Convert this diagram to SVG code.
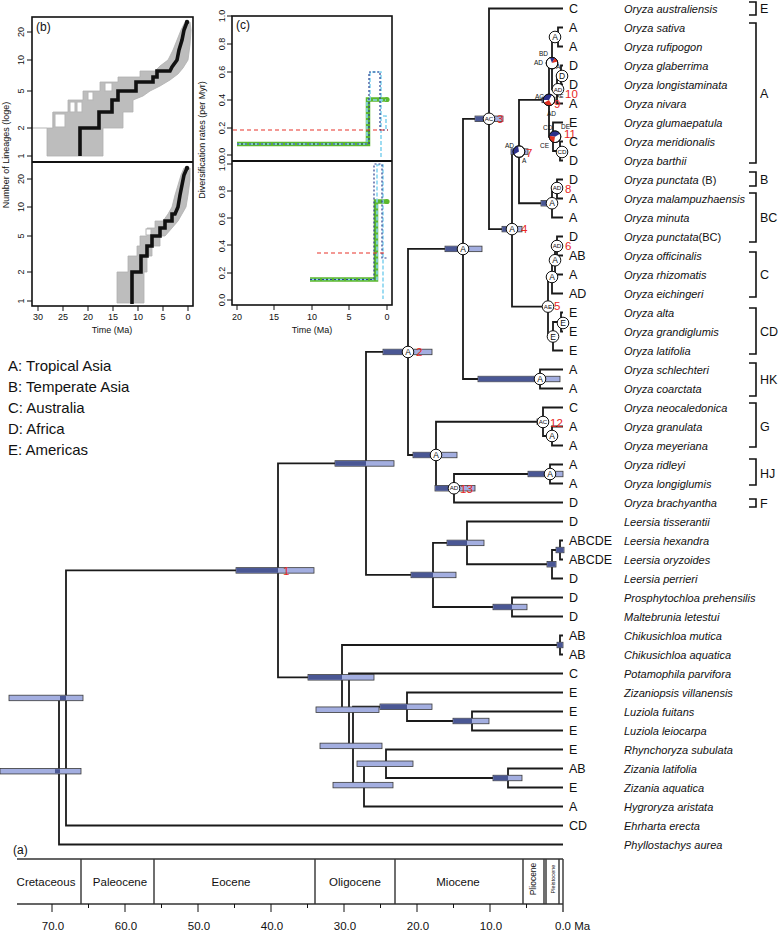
<svg xmlns="http://www.w3.org/2000/svg" width="778" height="931" viewBox="0 0 778 931">
<style>
text{font-family:"Liberation Sans",Arial,sans-serif;fill:#111}
.br{fill:none;stroke:#1a1a1a;stroke-width:1.8}
.bar{fill:#a3aee0;stroke:#3a3a3a;stroke-width:0.8}
.bd{fill:#4a5794}
.nc{fill:#fff;stroke:#111;stroke-width:1}
.n1{font-size:8.5px;text-anchor:middle}
.n2{font-size:6.2px;text-anchor:middle}
.pl{font-size:6.5px}
.red{font-size:11.5px;fill:#e8271e}
.rg{font-size:12.5px}
.sp{font-size:11px;font-style:italic}
.up{font-style:normal}
.bk{fill:none;stroke:#111;stroke-width:1.6}
.lg{font-size:15px}
.axm{font-size:9px;text-anchor:middle}
.frame{fill:none;stroke:#111;stroke-width:1.6}
.tk{stroke:#111;stroke-width:1}
.per{font-size:11.5px;text-anchor:middle}
.sc{fill:none;stroke:#333;stroke-width:1.4}
.band{fill:#bdbdbd;stroke:#b0b0b0;stroke-width:0.8}
.box{fill:#fff;stroke:#b5b5b5;stroke-width:1}
.ltt{fill:none;stroke:#111;stroke-width:3.6;stroke-linejoin:miter}
.grn{fill:none;stroke:#5cb82e;stroke-width:4.5}
.cy{fill:none;stroke:#86d4ef;stroke-width:1.6;stroke-dasharray:4 2}
.db{fill:none;stroke:#2b3f8f;stroke-width:1.2;stroke-dasharray:2 2}
.rd{fill:none;stroke:#e8332a;stroke-width:1.2;stroke-dasharray:4 3}
</style>

<!-- Plot (b) -->
<g id="plot-b">
<polygon class="band" points="47,156 47,128 53,128 53,112 68,112 68,100 83,100 83,91 100,91 100,82 118,82 118,77 140,77 140,71 155,71 160,66 168,60 173,50 177,40 181,30 185,22 190,22 191,30 190,45 188,60 183,68 178,74 170,80 160,86 150,91 143,96 133,100 133,112 123,112 123,128 103,128 103,156"/>
<rect class="box" x="55" y="114" width="10" height="13"/>
<rect class="box" x="70" y="102" width="5" height="10"/>
<rect class="box" x="77" y="102" width="5" height="10"/>
<rect class="box" x="88" y="92" width="5" height="8"/>
<rect class="box" x="105" y="83" width="7" height="8"/>
<polyline fill="none" stroke="#b5b5b5" stroke-width="1" points="32,128 47,128"/>
<polyline fill="none" stroke="#b5b5b5" stroke-width="1" points="53,112 53,128"/>
<polygon class="band" points="117,303 117,272 128,272 128,256 137,256 137,246 140,246 140,236 147,236 147,228 155,228 155,221 163,221 168,214 172,207 175,195 178,185 181,175 184,168 190,168 190,180 188,195 186,207 182,214 178,221 172,228 165,236 160,236 160,246 152,246 152,256 147,256 147,272 144,272 144,303"/>
<rect class="box" x="146" y="229" width="5" height="6"/>
<polyline class="ltt" points="80,156 80,128 99,128 99,112 112,112 112,100 118,100 118,91 136,91 136,82 153,82 153,77 157,77 157,71 170,71 172,67 177,60 179,50 182,40 184,30 187,22"/>
<circle cx="187" cy="22" r="2.2" fill="#111"/>
<polyline class="ltt" points="132,304 132,272 141,272 141,256 147,256 147,246 152,246 152,236 160,236 160,228 165,228 165,221 172,221 172,214 175,214 178,207 180,195 182,185 184,175 187,168"/>
<circle cx="187" cy="168" r="2.2" fill="#111"/>
<rect class="frame" x="32" y="17" width="161" height="289"/>
<line x1="32" y1="162" x2="193" y2="162" stroke="#111" stroke-width="2"/>
<text x="36" y="31" font-size="12">(b)</text>
<g class="tk">
<line x1="27" y1="32" x2="32" y2="32"/><line x1="27" y1="60" x2="32" y2="60"/><line x1="27" y1="91" x2="32" y2="91"/><line x1="27" y1="128" x2="32" y2="128"/><line x1="27" y1="156" x2="32" y2="156"/>
<line x1="27" y1="179" x2="32" y2="179"/><line x1="27" y1="207" x2="32" y2="207"/><line x1="27" y1="236" x2="32" y2="236"/><line x1="27" y1="272" x2="32" y2="272"/><line x1="27" y1="301" x2="32" y2="301"/>
<line x1="38" y1="306" x2="38" y2="311"/><line x1="63" y1="306" x2="63" y2="311"/><line x1="88" y1="306" x2="88" y2="311"/><line x1="113" y1="306" x2="113" y2="311"/><line x1="138" y1="306" x2="138" y2="311"/><line x1="163" y1="306" x2="163" y2="311"/><line x1="188" y1="306" x2="188" y2="311"/>
</g>
<text class="axm" transform="translate(24,32) rotate(-90)">20</text>
<text class="axm" transform="translate(24,60) rotate(-90)">10</text>
<text class="axm" transform="translate(24,91) rotate(-90)">5</text>
<text class="axm" transform="translate(24,128) rotate(-90)">2</text>
<text class="axm" transform="translate(24,156) rotate(-90)">1</text>
<text class="axm" transform="translate(24,179) rotate(-90)">20</text>
<text class="axm" transform="translate(24,207) rotate(-90)">10</text>
<text class="axm" transform="translate(24,236) rotate(-90)">5</text>
<text class="axm" transform="translate(24,272) rotate(-90)">2</text>
<text class="axm" transform="translate(24,301) rotate(-90)">1</text>
<text class="axm" transform="translate(9,155) rotate(-90)" font-size="8.5">Number of Lineages (loge)</text>
<text class="axm" x="38" y="320">30</text><text class="axm" x="63" y="320">25</text><text class="axm" x="88" y="320">20</text><text class="axm" x="113" y="320">15</text><text class="axm" x="138" y="320">10</text><text class="axm" x="163" y="320">5</text><text class="axm" x="188" y="320">0</text>
<text class="axm" x="112" y="333">Time (Ma)</text>
</g>

<!-- Plot (c) -->
<g id="plot-c">
<path class="grn" d="M237 144 H368 V99.5 H387"/>
<circle cx="387" cy="99.5" r="2.6" fill="#5cb82e"/>
<path class="cy" d="M237 144 H367 V100 H386"/>
<path class="cy" d="M370 100 V72 H381 V157"/>
<path class="cy" d="M383 116 H386 V131"/>
<path class="db" d="M237 144 H369 V72 H380 V130 H388"/>
<path class="rd" d="M233 130 H388"/>
<path class="grn" d="M310 279.5 H376 V201.5 H387"/>
<circle cx="387" cy="201.5" r="2.6" fill="#5cb82e"/>
<path class="cy" d="M310 279.5 H377 V165 H383 V299"/>
<path class="db" d="M310 279.5 H374 V164 H382 V258 H387"/>
<path class="rd" d="M317 253 H387"/>
<rect class="frame" x="232" y="16" width="160" height="289"/>
<line x1="232" y1="161" x2="392" y2="161" stroke="#111" stroke-width="2"/>
<text x="236" y="29" font-size="12">(c)</text>
<g class="tk">
<line x1="227" y1="16" x2="232" y2="16"/><line x1="227" y1="44" x2="232" y2="44"/><line x1="227" y1="72" x2="232" y2="72"/><line x1="227" y1="100" x2="232" y2="100"/><line x1="227" y1="128" x2="232" y2="128"/><line x1="227" y1="155" x2="232" y2="155"/>
<line x1="227" y1="164" x2="232" y2="164"/><line x1="227" y1="191" x2="232" y2="191"/><line x1="227" y1="218" x2="232" y2="218"/><line x1="227" y1="245" x2="232" y2="245"/><line x1="227" y1="273" x2="232" y2="273"/><line x1="227" y1="300" x2="232" y2="300"/>
<line x1="237" y1="305" x2="237" y2="310"/><line x1="274" y1="305" x2="274" y2="310"/><line x1="312" y1="305" x2="312" y2="310"/><line x1="349" y1="305" x2="349" y2="310"/><line x1="387" y1="305" x2="387" y2="310"/>
</g>
<text class="axm" transform="translate(225,16) rotate(-90)">1.0</text>
<text class="axm" transform="translate(225,44) rotate(-90)">0.8</text>
<text class="axm" transform="translate(225,72) rotate(-90)">0.6</text>
<text class="axm" transform="translate(225,100) rotate(-90)">0.4</text>
<text class="axm" transform="translate(225,128) rotate(-90)">0.2</text>
<text class="axm" transform="translate(225,154) rotate(-90)">0.0</text>
<text class="axm" transform="translate(225,165) rotate(-90)">1.0</text>
<text class="axm" transform="translate(225,192) rotate(-90)">0.8</text>
<text class="axm" transform="translate(225,219) rotate(-90)">0.6</text>
<text class="axm" transform="translate(225,246) rotate(-90)">0.4</text>
<text class="axm" transform="translate(225,273) rotate(-90)">0.2</text>
<text class="axm" transform="translate(225,300) rotate(-90)">0.0</text>
<text class="axm" transform="translate(205,140) rotate(-90)" font-size="8.5">Diversification rates (per Myr)</text>
<text class="axm" x="237" y="320">20</text><text class="axm" x="274" y="320">15</text><text class="axm" x="312" y="320">10</text><text class="axm" x="349" y="320">5</text><text class="axm" x="387" y="320">0</text>
<text class="axm" x="312" y="333">Time (Ma)</text>
</g>

<!-- Legend -->
<g id="legend">
<text class="lg" x="8" y="371">A: Tropical Asia</text>
<text class="lg" x="8" y="392">B: Temperate Asia</text>
<text class="lg" x="8" y="413">C: Australia</text>
<text class="lg" x="8" y="434">D: Africa</text>
<text class="lg" x="8" y="455">E: Americas</text>
</g>

<!-- Connectors (tree branches) -->
<g id="connectors" class="br">
<path d="M66 697.95 H59 V844.5 H563"/>
<path d="M278 570.4 H66 V825.5 H563"/>
<path d="M366 463.45 H278 V677.35 H342"/>
<path d="M408 351.95 H366 V574.95 H433"/>
<path d="M463 248.9 H408 V455 H436"/>
<path d="M489 118.8 H463 V379 H540"/>
<path d="M563 8.5 H489 V229.1 H512"/>
<path d="M519 151.6 H512 V306.6 H548"/>
<path d="M549 99.9 H519 V203.25 H552"/>
<path d="M552 63.1 H549 V136.75 H553"/>
<path d="M558 37 H552 V89.25 H557"/>
<path d="M563 27.5 H558 V46.5 H563"/>
<path d="M561 75 H557 V103.5 H563"/>
<path d="M563 65.5 H561 V84.5 H563"/>
<path d="M563 122.5 H553 V151 H560"/>
<path d="M563 141.5 H560 V160.5 H563"/>
<path d="M557 189 H552 V217.5 H563"/>
<path d="M563 179.5 H557 V198.5 H563"/>
<path d="M552 276.9 H548 V336.25 H553"/>
<path d="M555 260.25 H552 V293.5 H563"/>
<path d="M557 246 H555 V274.5 H563"/>
<path d="M563 236.5 H557 V255.5 H563"/>
<path d="M561 322 H553 V350.5 H563"/>
<path d="M563 312.5 H561 V331.5 H563"/>
<path d="M563 369.5 H540 V388.5 H563"/>
<path d="M543 421.75 H436 V488.25 H454"/>
<path d="M563 407.5 H543 V436 H552"/>
<path d="M563 426.5 H552 V445.5 H563"/>
<path d="M550 474 H454 V502.5 H563"/>
<path d="M563 464.5 H550 V483.5 H563"/>
<path d="M467 542.9 H433 V607 H512"/>
<path d="M563 521.5 H467 V564.25 H552"/>
<path d="M560 550 H552 V578.5 H563"/>
<path d="M563 540.5 H560 V559.5 H563"/>
<path d="M563 597.5 H512 V616.5 H563"/>
<path d="M560 645 H342 V709.7 H349"/>
<path d="M563 635.5 H560 V654.5 H563"/>
<path d="M563 673.5 H349 V745.9 H353"/>
<path d="M407 706.75 H353 V785.1 H364"/>
<path d="M563 692.5 H407 V721 H472"/>
<path d="M563 711.5 H472 V730.5 H563"/>
<path d="M386 763.75 H364 V806.5 H563"/>
<path d="M563 749.5 H386 V778 H508"/>
<path d="M563 768.5 H508 V787.5 H563"/>
</g>

<!-- Node age bars -->
<g id="bars">
<rect class="bar" x="0" y="768.45" width="81" height="5.5"/><rect class="bd" x="55" y="769.2" width="5" height="4"/>
<rect class="bar" x="9" y="695.2" width="74" height="5.5"/><rect class="bd" x="60" y="696" width="6" height="4"/>
<rect class="bar" x="236" y="567.65" width="78" height="5.5"/><rect class="bd" x="236.4" y="568.05" width="41.6" height="4.7"/>
<rect class="bar" x="335" y="460.7" width="59" height="5.5"/><rect class="bd" x="335.4" y="461.1" width="30.6" height="4.7"/>
<rect class="bar" x="383" y="349.2" width="49" height="5.5"/><rect class="bd" x="383.4" y="349.6" width="24.6" height="4.7"/>
<rect class="bar" x="445" y="246.15" width="37" height="5.5"/><rect class="bd" x="445.4" y="246.55" width="17.6" height="4.7"/>
<rect class="bar" x="475" y="116.05" width="28" height="5.5"/><rect class="bd" x="475.4" y="116.45" width="13.6" height="4.7"/>
<rect class="bar" x="502" y="226.35" width="20" height="5.5"/><rect class="bd" x="502.4" y="226.75" width="9.6" height="4.7"/>
<rect class="bar" x="511" y="148.85" width="17" height="5.5"/><rect class="bd" x="511.4" y="149.25" width="7.6" height="4.7"/>
<rect class="bar" x="542" y="97.15" width="13" height="5.5"/><rect class="bd" x="542.4" y="97.55" width="7" height="4.7"/>
<rect class="bar" x="541" y="200.5" width="14" height="5.5"/><rect class="bd" x="541.4" y="200.9" width="10.6" height="4.7"/>
<rect class="bar" x="478" y="376.25" width="82" height="5.5"/><rect class="bd" x="478.4" y="376.65" width="61.6" height="4.7"/>
<rect class="bar" x="413" y="452.25" width="44" height="5.5"/><rect class="bd" x="413.4" y="452.65" width="22.6" height="4.7"/>
<rect class="bar" x="435" y="485.5" width="40" height="5.5"/><rect class="bd" x="435.4" y="485.9" width="18.6" height="4.7"/>
<rect class="bar" x="528" y="471.25" width="35" height="5.5"/><rect class="bd" x="528.4" y="471.65" width="21.6" height="4.7"/>
<rect class="bar" x="537" y="419" width="9" height="5.5"/><rect class="bd" x="537.4" y="419.4" width="8.2" height="4.7"/>
<rect class="bar" x="411" y="572.2" width="45" height="5.5"/><rect class="bd" x="411.4" y="572.6" width="21.6" height="4.7"/>
<rect class="bar" x="447" y="540.15" width="37" height="5.5"/><rect class="bd" x="447.4" y="540.55" width="19.6" height="4.7"/>
<rect class="bar" x="547" y="561.5" width="9" height="5.5"/><rect class="bd" x="547.4" y="561.9" width="8.2" height="4.7"/>
<rect class="bar" x="556" y="547.25" width="8" height="5.5"/><rect class="bd" x="556.4" y="547.65" width="7.2" height="4.7"/>
<rect class="bar" x="493" y="604.25" width="34" height="5.5"/><rect class="bd" x="493.4" y="604.65" width="18.6" height="4.7"/>
<rect class="bar" x="308" y="674.6" width="66" height="5.5"/><rect class="bd" x="308.4" y="675" width="33.6" height="4.7"/>
<rect class="bar" x="316" y="706.95" width="63" height="5.5"/>
<rect class="bar" x="320" y="743.15" width="62" height="5.5"/>
<rect class="bar" x="380" y="704" width="52" height="5.5"/><rect class="bd" x="380.4" y="704.4" width="26.6" height="4.7"/>
<rect class="bar" x="453" y="718.25" width="36" height="5.5"/><rect class="bd" x="453.4" y="718.65" width="18.6" height="4.7"/>
<rect class="bar" x="333" y="782.35" width="60" height="5.5"/>
<rect class="bar" x="357" y="761" width="56" height="5.5"/>
<rect class="bar" x="493" y="775.25" width="29" height="5.5"/><rect class="bd" x="493.4" y="775.65" width="14.6" height="4.7"/>
<rect class="bar" x="557" y="642.25" width="6" height="5.5"/><rect class="bd" x="557.4" y="642.65" width="5.2" height="4.7"/>
</g>

<!-- Internal nodes (ancestral range circles) -->
<g id="n-2"><circle class="nc" cx="408" cy="352" r="5.8"/><text class="n1" x="408" y="355">A</text></g>
<g id="n-N3"><circle class="nc" cx="463" cy="249" r="5.8"/><text class="n1" x="463" y="252">A</text></g>
<g id="n-3"><circle class="nc" cx="489" cy="118.8" r="5.8"/><text class="n2" x="489" y="121">AC</text></g>
<g id="n-4"><circle class="nc" cx="512" cy="229.1" r="5.8"/><text class="n1" x="512" y="232.1">A</text></g>
<g id="n-7"><circle class="nc" cx="519" cy="151.6" r="5.8"/><path d="M519 151.6 L513.98 154.5 A5.8 5.8 0 0 1 517.99 145.89 Z" fill="#2b2f8a"/><circle cx="519" cy="151.6" r="5.8" fill="none" stroke="#111" stroke-width="1"/><text class="pl" x="505" y="148">AD</text><text class="pl" x="522" y="163">A</text></g>
<g id="n-sr"><circle class="nc" cx="555" cy="37" r="5.8"/><text class="n1" x="555" y="40">A</text></g>
<g id="n-62"><circle class="nc" cx="552" cy="63.1" r="5.8"/><path d="M552 63.1 L550.02 57.65 A5.8 5.8 0 0 1 554.9 58.08 Z" fill="#2b2f8a"/><path d="M552 63.1 L554.9 58.08 A5.8 5.8 0 0 1 557.6 61.6 Z" fill="#e03020"/><circle cx="552" cy="63.1" r="5.8" fill="none" stroke="#111" stroke-width="1"/><text class="pl" x="539" y="55.5">BD</text><text class="pl" x="534" y="65">AD</text><text class="pl" x="556" y="68.5">A</text></g>
<g id="n-D"><circle class="nc" cx="562" cy="76" r="5.8"/><text class="n1" x="562" y="79">D</text></g>
<g id="n-10"><circle class="nc" cx="558" cy="89.25" r="5.8"/><text class="n2" x="558" y="91.5">AD</text></g>
<g id="n-9"><text x="556" y="98" font-size="5.5">AE</text><circle class="nc" cx="549" cy="99.9" r="5.8"/><path d="M549 99.9 L543.2 99.9 A5.8 5.8 0 0 1 551.9 94.88 Z" fill="#2b2f8a"/><path d="M549 99.9 L551.9 104.92 A5.8 5.8 0 0 1 543.98 102.8 Z" fill="#e03020"/><circle cx="549" cy="99.9" r="5.8" fill="none" stroke="#111" stroke-width="1"/><text class="pl" x="535" y="99">AC</text><text class="pl" x="547" y="115.5">AD</text></g>
<g id="n-11"><circle class="nc" cx="555" cy="136.75" r="5.8"/><path d="M555 136.75 L549.29 135.74 A5.8 5.8 0 0 1 560.02 133.85 Z" fill="#2b2f8a"/><path d="M555 136.75 L553.99 142.46 A5.8 5.8 0 0 1 549.29 135.74 Z" fill="#e03020"/><circle cx="555" cy="136.75" r="5.8" fill="none" stroke="#111" stroke-width="1"/><text class="pl" x="543" y="129.5">CD</text><text class="pl" x="561" y="128.5">DE</text><text class="pl" x="540" y="147.5">CE</text></g>
<g id="n-CD89"><circle class="nc" cx="562" cy="152" r="5.8"/><text class="n2" x="562" y="154.2">CD</text></g>
<g id="n-B"><circle class="nc" cx="552" cy="203.25" r="5.8"/><text class="n1" x="552" y="206.25">A</text></g>
<g id="n-8"><circle class="nc" cx="557" cy="188" r="5.8"/><text class="n2" x="557" y="190.2">AD</text></g>
<g id="n-6"><circle class="nc" cx="557" cy="246" r="5.8"/><text class="n2" x="557" y="248.2">AD</text></g>
<g id="n-a"><circle class="nc" cx="555" cy="260.25" r="5.8"/><text class="n1" x="555" y="263.25">A</text></g>
<g id="n-b"><circle class="nc" cx="552" cy="277" r="5.8"/><text class="n1" x="552" y="280">A</text></g>
<g id="n-5"><circle class="nc" cx="548" cy="306.6" r="5.8"/><text class="n2" x="548" y="308.8">AE</text></g>
<g id="n-CD2"><circle class="nc" cx="563" cy="323" r="5.8"/><text class="n1" x="563" y="326">E</text></g>
<g id="n-CD"><circle class="nc" cx="553" cy="336.5" r="5.8"/><text class="n1" x="553" y="339.5">E</text></g>
<g id="n-HK"><circle class="nc" cx="540" cy="379" r="5.8"/><text class="n1" x="540" y="382">A</text></g>
<g id="n-lo"><circle class="nc" cx="436" cy="455" r="5.8"/><text class="n1" x="436" y="458">A</text></g>
<g id="n-12"><circle class="nc" cx="543" cy="422" r="5.8"/><text class="n2" x="543" y="424.2">AC</text></g>
<g id="n-G2"><circle class="nc" cx="552" cy="436" r="5.8"/><text class="n1" x="552" y="439">A</text></g>
<g id="n-13"><circle class="nc" cx="454" cy="488.25" r="5.8"/><text class="n2" x="454" y="490.45">AD</text></g>
<g id="n-HJ"><circle class="nc" cx="550" cy="474" r="5.8"/><text class="n1" x="550" y="477">A</text></g>

<!-- Node numbers -->
<g id="node-numbers">
<text class="red" x="283" y="575">1</text>
<text class="red" x="416" y="356">2</text>
<text class="red" x="497" y="123">3</text>
<text class="red" x="521" y="233">4</text>
<text class="red" x="554" y="310">5</text>
<text class="red" x="565" y="250">6</text>
<text class="red" x="526" y="157">7</text>
<text class="red" x="565" y="193">8</text>
<text class="red" x="554" y="108">9</text>
<text class="red" x="565" y="98" font-size="11px">10</text>
<text class="red" x="564" y="137.5" font-size="11px">11</text>
<text class="red" x="550" y="427">12</text>
<text class="red" x="460" y="493">13</text>
</g>

<!-- Tips -->
<g id="t01"><text class="rg" x="569" y="13">C</text><text class="sp" x="624" y="12.5">Oryza australiensis</text></g>
<g id="t02"><text class="rg" x="569" y="32">A</text><text class="sp" x="624" y="31.5">Oryza sativa</text></g>
<g id="t03"><text class="rg" x="569" y="51">A</text><text class="sp" x="624" y="50.5">Oryza rufipogon</text></g>
<g id="t04"><text class="rg" x="569" y="70">D</text><text class="sp" x="624" y="69.5">Oryza glaberrima</text></g>
<g id="t05"><text class="rg" x="569" y="89">D</text><text class="sp" x="624" y="88.5">Oryza longistaminata</text></g>
<g id="t06"><text class="rg" x="569" y="108">A</text><text class="sp" x="624" y="107.5">Oryza nivara</text></g>
<g id="t07"><text class="rg" x="569" y="127">E</text><text class="sp" x="624" y="126.5">Oryza glumaepatula</text></g>
<g id="t08"><text class="rg" x="569" y="146">C</text><text class="sp" x="624" y="145.5">Oryza meridionalis</text></g>
<g id="t09"><text class="rg" x="569" y="165">D</text><text class="sp" x="624" y="164.5">Oryza barthii</text></g>
<g id="t10"><text class="rg" x="569" y="184">D</text><text class="sp" x="624" y="183.5">Oryza punctata<tspan class="up"> (B)</tspan></text></g>
<g id="t11"><text class="rg" x="569" y="203">A</text><text class="sp" x="624" y="202.5">Oryza malampuzhaensis</text></g>
<g id="t12"><text class="rg" x="569" y="222">A</text><text class="sp" x="624" y="221.5">Oryza minuta</text></g>
<g id="t13"><text class="rg" x="569" y="241">D</text><text class="sp" x="624" y="240.5">Oryza punctata<tspan class="up">(BC)</tspan></text></g>
<g id="t14"><text class="rg" x="569" y="260">AB</text><text class="sp" x="624" y="259.5">Oryza officinalis</text></g>
<g id="t15"><text class="rg" x="569" y="279">A</text><text class="sp" x="624" y="278.5">Oryza rhizomatis</text></g>
<g id="t16"><text class="rg" x="569" y="298">AD</text><text class="sp" x="624" y="297.5">Oryza eichingeri</text></g>
<g id="t17"><text class="rg" x="569" y="317">E</text><text class="sp" x="624" y="316.5">Oryza alta</text></g>
<g id="t18"><text class="rg" x="569" y="336">E</text><text class="sp" x="624" y="335.5">Oryza grandiglumis</text></g>
<g id="t19"><text class="rg" x="569" y="355">E</text><text class="sp" x="624" y="354.5">Oryza latifolia</text></g>
<g id="t20"><text class="rg" x="569" y="374">A</text><text class="sp" x="624" y="373.5">Oryza schlechteri</text></g>
<g id="t21"><text class="rg" x="569" y="393">A</text><text class="sp" x="624" y="392.5">Oryza coarctata</text></g>
<g id="t22"><text class="rg" x="569" y="412">C</text><text class="sp" x="624" y="411.5">Oryza neocaledonica</text></g>
<g id="t23"><text class="rg" x="569" y="431">A</text><text class="sp" x="624" y="430.5">Oryza granulata</text></g>
<g id="t24"><text class="rg" x="569" y="450">A</text><text class="sp" x="624" y="449.5">Oryza meyeriana</text></g>
<g id="t25"><text class="rg" x="569" y="469">A</text><text class="sp" x="624" y="468.5">Oryza ridleyi</text></g>
<g id="t26"><text class="rg" x="569" y="488">A</text><text class="sp" x="624" y="487.5">Oryza longiglumis</text></g>
<g id="t27"><text class="rg" x="569" y="507">D</text><text class="sp" x="624" y="506.5">Oryza brachyantha</text></g>
<g id="t28"><text class="rg" x="569" y="526">D</text><text class="sp" x="624" y="525.5">Leersia tisserantii</text></g>
<g id="t29"><text class="rg" x="569" y="545">ABCDE</text><text class="sp" x="624" y="544.5">Leersia hexandra</text></g>
<g id="t30"><text class="rg" x="569" y="564">ABCDE</text><text class="sp" x="624" y="563.5">Leersia oryzoides</text></g>
<g id="t31"><text class="rg" x="569" y="583">D</text><text class="sp" x="624" y="582.5">Leersia perrieri</text></g>
<g id="t32"><text class="rg" x="569" y="602">D</text><text class="sp" x="624" y="601.5">Prosphytochloa prehensilis</text></g>
<g id="t33"><text class="rg" x="569" y="621">D</text><text class="sp" x="624" y="620.5">Maltebrunia letestui</text></g>
<g id="t34"><text class="rg" x="569" y="640">AB</text><text class="sp" x="624" y="639.5">Chikusichloa mutica</text></g>
<g id="t35"><text class="rg" x="569" y="659">AB</text><text class="sp" x="624" y="658.5">Chikusichloa aquatica</text></g>
<g id="t36"><text class="rg" x="569" y="678">C</text><text class="sp" x="624" y="677.5">Potamophila parvifora</text></g>
<g id="t37"><text class="rg" x="569" y="697">E</text><text class="sp" x="624" y="696.5">Zizaniopsis villanensis</text></g>
<g id="t38"><text class="rg" x="569" y="716">E</text><text class="sp" x="624" y="715.5">Luziola fuitans</text></g>
<g id="t39"><text class="rg" x="569" y="735">E</text><text class="sp" x="624" y="734.5">Luziola leiocarpa</text></g>
<g id="t40"><text class="rg" x="569" y="754">E</text><text class="sp" x="624" y="753.5">Rhynchoryza subulata</text></g>
<g id="t41"><text class="rg" x="569" y="773">AB</text><text class="sp" x="624" y="772.5">Zizania latifolia</text></g>
<g id="t42"><text class="rg" x="569" y="792">E</text><text class="sp" x="624" y="791.5">Zizania aquatica</text></g>
<g id="t43"><text class="rg" x="569" y="811">A</text><text class="sp" x="624" y="810.5">Hygroryza aristata</text></g>
<g id="t44"><text class="rg" x="569" y="830">CD</text><text class="sp" x="624" y="829.5">Ehrharta erecta</text></g>
<g id="t45"><text class="sp" x="624" y="848.5">Phyllostachys aurea</text></g>

<!-- Genome brackets -->
<g id="brackets">
<path class="bk" d="M749 2 H756 V15 H749"/><text class="rg" x="760" y="13">E</text>
<path class="bk" d="M749 23 H756 V163 H749"/><text class="rg" x="760" y="97.5">A</text>
<path class="bk" d="M749 172 H756 V186 H749"/><text class="rg" x="760" y="184">B</text>
<path class="bk" d="M749 193 H756 V242 H749"/><text class="rg" x="760" y="222">BC</text>
<path class="bk" d="M749 252 H756 V297 H749"/><text class="rg" x="760" y="279">C</text>
<path class="bk" d="M749 308 H756 V354 H749"/><text class="rg" x="760" y="336">CD</text>
<path class="bk" d="M749 363 H756 V396 H749"/><text class="rg" x="760" y="384">HK</text>
<path class="bk" d="M749 403 H756 V447 H749"/><text class="rg" x="760" y="431">G</text>
<path class="bk" d="M749 459 H756 V485 H749"/><text class="rg" x="760" y="477.5">HJ</text>
<path class="bk" d="M749 499 H756 V507 H749"/><text class="rg" x="760" y="507.5">F</text>
</g>

<!-- Time scale (a) -->
<g id="timescale">
<text x="13" y="854" font-size="12">(a)</text>
<path class="sc" d="M17 859 H563 M17 904 H563 M81 859 V904 M154 859 V904 M315 859 V904 M395 859 V904 M523 859 V904 M544 859 V904 M546 859 V904 M559 859 V904 M563 859 V912"/>
<g class="tk">
<line x1="52" y1="904" x2="52" y2="912"/><line x1="125" y1="904" x2="125" y2="912"/><line x1="198" y1="904" x2="198" y2="912"/><line x1="271" y1="904" x2="271" y2="912"/><line x1="344" y1="904" x2="344" y2="912"/><line x1="417" y1="904" x2="417" y2="912"/><line x1="490" y1="904" x2="490" y2="912"/>
<line x1="88.5" y1="904" x2="88.5" y2="908"/><line x1="161.5" y1="904" x2="161.5" y2="908"/><line x1="234.5" y1="904" x2="234.5" y2="908"/><line x1="307.5" y1="904" x2="307.5" y2="908"/><line x1="380.5" y1="904" x2="380.5" y2="908"/><line x1="453.5" y1="904" x2="453.5" y2="908"/><line x1="526.5" y1="904" x2="526.5" y2="908"/>
</g>
<text class="per" x="46" y="886">Cretaceous</text>
<text class="per" x="120" y="886">Paleocene</text>
<text class="per" x="231" y="886">Eocene</text>
<text class="per" x="355" y="886">Oligocene</text>
<text class="per" x="458" y="886">Miocene</text>
<text transform="translate(536,879) rotate(-90)" text-anchor="middle" font-size="8.5">Pliocene</text>
<text transform="translate(555,879) rotate(-90)" text-anchor="middle" font-size="5.6">Pleistocene</text>
<text class="per" x="53" y="930">70.0</text>
<text class="per" x="126" y="930">60.0</text>
<text class="per" x="199" y="930">50.0</text>
<text class="per" x="272" y="930">40.0</text>
<text class="per" x="345" y="930">30.0</text>
<text class="per" x="418" y="930">20.0</text>
<text class="per" x="491" y="930">10.0</text>
<text x="555" y="930" font-size="11.5">0.0 Ma</text>
</g>
</svg>
